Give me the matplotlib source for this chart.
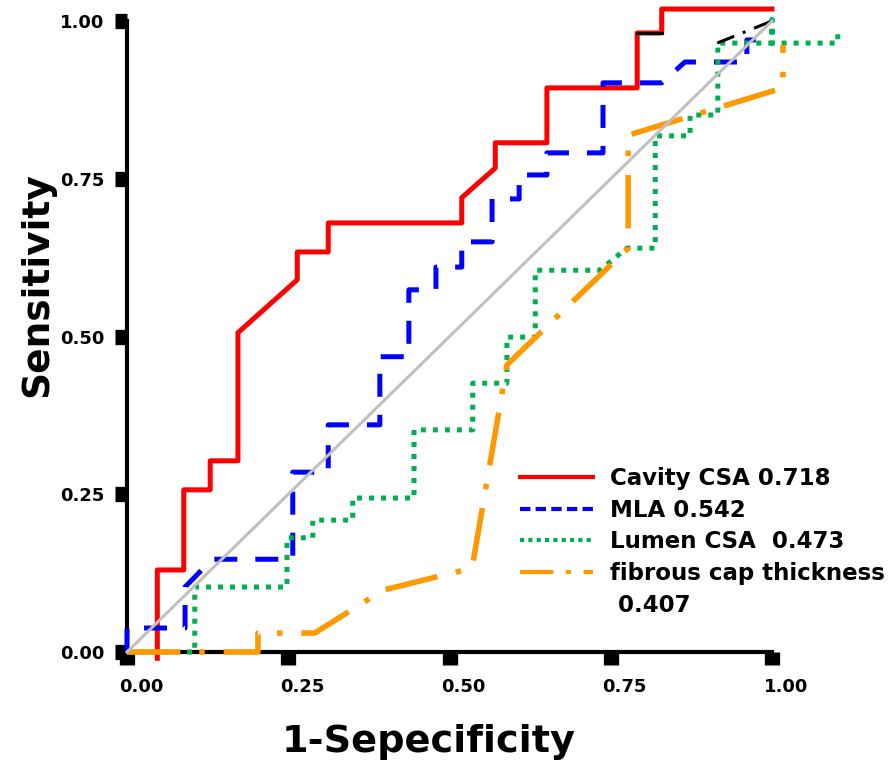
from matplotlib import pyplot as plt
from matplotlib.lines import Line2D
from matplotlib.transforms import ScaledTranslation

plt.rcParams['font.family'] = ['DejaVu Sans']
plt.rcParams['font.weight'] = 'bold'

# ROC curve vertices (1-specificity, sensitivity)
cavity_x = [0.047, 0.047, 0.088, 0.088, 0.129, 0.129, 0.172, 0.172, 0.264, 0.264, 0.312, 0.312,
            0.519, 0.519, 0.571, 0.571, 0.651, 0.651, 0.791, 0.791, 0.829, 0.829, 1.0]
cavity_y = [-0.010, 0.130, 0.130, 0.257, 0.257, 0.303, 0.303, 0.506, 0.590, 0.634, 0.634, 0.680,
            0.680, 0.720, 0.767, 0.807, 0.807, 0.894, 0.894, 0.981, 0.981, 1.019, 1.019]

mla_x = [0.0, 0.0, 0.090, 0.090, 0.132, 0.257, 0.257, 0.312, 0.312, 0.392, 0.392, 0.437, 0.437,
         0.479, 0.479, 0.519, 0.519, 0.566, 0.566, 0.608, 0.608, 0.651, 0.651, 0.738, 0.738,
         0.829, 0.865, 0.961, 0.961, 0.997]
mla_y = [0.0, 0.038, 0.038, 0.103, 0.147, 0.147, 0.285, 0.285, 0.360, 0.360, 0.468, 0.468, 0.574,
         0.574, 0.610, 0.610, 0.650, 0.650, 0.718, 0.718, 0.756, 0.756, 0.791, 0.791, 0.902,
         0.902, 0.935, 0.935, 0.970, 0.970]

lumen_x = [0.0, 0.105, 0.105, 0.248, 0.248, 0.288, 0.288, 0.350, 0.350, 0.445, 0.445, 0.536,
           0.536, 0.589, 0.589, 0.633, 0.633, 0.733, 0.775, 0.819, 0.819, 0.873, 0.873, 0.916,
           0.916, 1.0, 1.0, 1.0, 1.102, 1.102]
lumen_y = [0.0, 0.0, 0.103, 0.103, 0.181, 0.181, 0.209, 0.209, 0.244, 0.244, 0.352, 0.352,
           0.426, 0.426, 0.499, 0.499, 0.605, 0.605, 0.640, 0.640, 0.818, 0.818, 0.851, 0.851,
           0.965, 0.965, 1.002, 0.965, 0.965, 0.990]

cap_x = [0.0, 0.203, 0.203, 0.291, 0.397, 0.535, 0.589, 0.777, 0.777, 1.017, 1.017]
cap_y = [0.0, 0.0, 0.030, 0.030, 0.098, 0.133, 0.455, 0.640, 0.819, 0.894, 0.962]

black1_x = [0.791, 0.829]
black1_y = [0.981, 0.981]
black2_x = [0.915, 1.0]
black2_y = [0.965, 1.0]

labels = ['Cavity CSA 0.718', 'MLA 0.542', 'Lumen CSA  0.473', 'fibrous cap thickness', ' 0.407']
colors = ['#FF0000', '#0000FF', '#00B050', '#FF9900']
ticks = [0.0, 0.25, 0.5, 0.75, 1.0]
tick_labels = ['0.00', '0.25', '0.50', '0.75', '1.00']

fig = plt.figure(figsize=(8.96, 7.66), dpi=100)
ax = fig.add_axes([127 / 896, 114 / 766, 645 / 896, 631 / 766])

ax.plot(cavity_x, cavity_y, color=colors[0], lw=3.6, clip_on=False, zorder=3)
ax.plot(mla_x, mla_y, color=colors[1], lw=3.6, ls=(0, (4.6, 3.6)), clip_on=False, zorder=3)
ax.plot(lumen_x, lumen_y, color=colors[2], lw=3.6, ls=(0, (1, 1.4)), clip_on=False, zorder=3)
ax.plot(cap_x, cap_y, color=colors[3], lw=4, ls=(0, (9.6, 3.4, 1, 3.4)), clip_on=False, zorder=3)
ax.plot(black1_x, black1_y, color='black', lw=2.2, clip_on=False, zorder=4)
ax.plot(black2_x, black2_y, color='black', lw=2.2, ls=(0, (6, 3, 1, 3)), clip_on=False, zorder=4)
ax.plot([0, 1], [0, 1], color='#C0C0C0', lw=2.2, clip_on=False, zorder=5)

ax.set_xlim(0, 1.0)
ax.set_ylim(0, 1.0)
for s in ['top', 'right']:
    ax.spines[s].set_visible(False)
ax.spines['left'].set_linewidth(3)
ax.spines['bottom'].set_linewidth(3)

ax.set_xticks(ticks)
ax.set_xticklabels(tick_labels)
ax.set_yticks(ticks)
ax.set_yticklabels(tick_labels)
ax.tick_params(axis='both', direction='out', length=9, width=11, labelsize=13)
ax.tick_params(axis='x', pad=10)
ax.tick_params(axis='y', pad=7)
shift = ScaledTranslation(14 / 100, 0, fig.dpi_scale_trans)
for lab in ax.get_xticklabels():
    lab.set_transform(lab.get_transform() + shift)

ax.set_xlabel('1-Sepecificity', fontsize=27.5, fontweight='bold', va='center')
ax.xaxis.set_label_coords(0.468, -0.143)
ax.set_ylabel('Sensitivity', fontsize=27, fontweight='bold', va='center')
ax.yaxis.set_label_coords(-0.1395, 0.582)

handles = [
    Line2D([], [], color=colors[0], lw=3),
    Line2D([], [], color=colors[1], lw=3, ls=(0, (2.5, 1.25))),
    Line2D([], [], color=colors[2], lw=3, ls=(0, (1, 1))),
    Line2D([], [], color=colors[3], lw=3, ls=(0, (8, 3, 1.25, 3))),
    Line2D([], [], color='none', lw=0),
]
ax.legend(handles, labels, loc='upper left', bbox_to_anchor=(520 / 896, (766 - 467) / 766),
          bbox_transform=fig.transFigure, frameon=False, borderpad=0, borderaxespad=0,
          prop={'size': 16.5, 'weight': 'bold'}, handlelength=3.2, handletextpad=0.72,
          labelspacing=0.38)

plt.savefig('out.png', dpi=100)
